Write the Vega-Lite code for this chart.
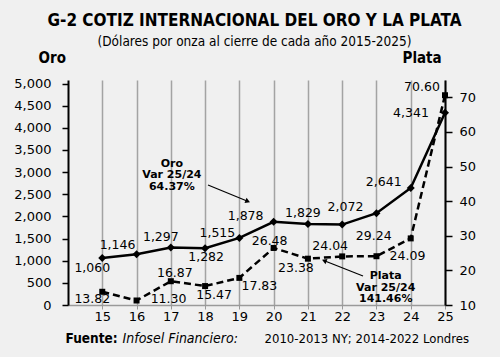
{
  "$schema": "https://vega.github.io/schema/vega-lite/v6.json",
  "width": 377,
  "height": 225,
  "autosize": {"type": "none"},
  "padding": {"left": 68, "top": 80, "right": 55, "bottom": 52},
  "background": "#f0f0f0",
  "title": {
    "text": "G-2 COTIZ INTERNACIONAL DEL ORO Y LA PLATA",
    "subtitle": "(Dólares por onza al cierre de cada año 2015-2025)",
    "anchor": "middle",
    "frame": "group",
    "font": "DejaVu Sans Condensed",
    "fontSize": 17,
    "fontWeight": "bold",
    "color": "black",
    "subtitleFont": "DejaVu Sans Condensed",
    "subtitleFontSize": 13.5,
    "subtitleColor": "black",
    "subtitlePadding": 5,
    "offset": 1,
    "dx": -2
  },
  "config": {
    "view": {"stroke": null},
    "axis": {"labelFont": "DejaVu Sans", "labelFontSize": 13, "labelColor": "black", "titleColor": "black"},
    "text": {"font": "DejaVu Sans", "fontSize": 12.5, "color": "black"}
  },
  "datasets": {
    "precios": [
      {"anio": 15, "oro": 1060, "plata": 13.82},
      {"anio": 16, "oro": 1146, "plata": 11.30},
      {"anio": 17, "oro": 1297, "plata": 16.87},
      {"anio": 18, "oro": 1282, "plata": 15.47},
      {"anio": 19, "oro": 1515, "plata": 17.83},
      {"anio": 20, "oro": 1878, "plata": 26.48},
      {"anio": 21, "oro": 1829, "plata": 23.38},
      {"anio": 22, "oro": 1815, "plata": 24.04},
      {"anio": 23, "oro": 2072, "plata": 24.09},
      {"anio": 24, "oro": 2641, "plata": 29.24},
      {"anio": 25, "oro": 4341, "plata": 70.60}
    ],
    "notas": [
      {"tipo": "texto", "anio": 17.03, "oro": 3185, "texto": "Oro\nVar 25/24\n64.37%"},
      {"tipo": "flecha", "anio": 18.085, "oro": 2709, "anio2": 19.223, "oro2": 2348},
      {"tipo": "punta", "anio": 19.223, "oro": 2348},
      {"tipo": "texto", "anio": 23.27, "plata": 18.3, "texto": "Plata\nVar 25/24\n141.46%"},
      {"tipo": "flecha", "anio": 22.608, "plata": 18.38, "anio2": 21.499, "plata2": 22.71},
      {"tipo": "punta", "anio": 21.499, "plata": 22.71}
    ]
  },
  "layer": [
    {
      "data": {"name": "precios"},
      "encoding": {
        "x": {
          "field": "anio", "type": "quantitative",
          "scale": {"domain": [14, 25], "nice": false, "zero": false},
          "axis": {
            "orient": "bottom", "values": [15, 16, 17, 18, 19, 20, 21, 22, 23, 24, 25], "format": "d",
            "grid": true, "gridColor": "#a3a3a3", "gridWidth": 1.5,
            "domainColor": "#9a9a9a", "domainWidth": 1.5, "tickColor": "#9a9a9a", "tickSize": 4,
            "labelPadding": 1, "labelFlush": false, "labelOverlap": false,
            "title": "Fuente:", "titleX": -3, "titleY": 37, "titleAlign": "left", "titleBaseline": "alphabetic",
            "titleFont": "DejaVu Sans Condensed", "titleFontSize": 13.5, "titleFontWeight": "bold"
          }
        },
        "y": {
          "field": "oro", "type": "quantitative",
          "scale": {"domain": [0, 5080], "nice": false},
          "axis": {
            "orient": "left", "values": [0, 500, 1000, 1500, 2000, 2500, 3000, 3500, 4000, 4500, 5000], "format": ",.0f",
            "grid": false, "domainColor": "black", "domainWidth": 2, "tickColor": "black", "tickSize": 6, "tickWidth": 1.5,
            "labelPadding": 11,
            "title": "Oro", "titleAngle": 0, "titleX": -30, "titleY": -18, "titleAlign": "left", "titleBaseline": "alphabetic",
            "titleFont": "DejaVu Sans Condensed", "titleFontSize": 15, "titleFontWeight": "bold"
          }
        }
      },
      "layer": [
        {"mark": {"type": "line", "color": "black", "strokeWidth": 2.5}},
        {"mark": {"type": "point", "shape": "diamond", "filled": true, "color": "black", "opacity": 1, "size": 64}},
        {
          "encoding": {"text": {"field": "oro", "type": "quantitative", "format": ",.0f"}},
          "layer": [
            {"transform": [{"filter": "datum.anio == 15"}], "mark": {"type": "text", "dx": -10, "dy": 10}},
            {"transform": [{"filter": "datum.anio == 16"}], "mark": {"type": "text", "dx": -19, "dy": -9}},
            {"transform": [{"filter": "datum.anio == 17"}], "mark": {"type": "text", "dx": -10, "dy": -11}},
            {"transform": [{"filter": "datum.anio == 18"}], "mark": {"type": "text", "dx": 1, "dy": 9}},
            {"transform": [{"filter": "datum.anio == 19"}], "mark": {"type": "text", "dx": -22, "dy": -5}},
            {"transform": [{"filter": "datum.anio == 20"}], "mark": {"type": "text", "dx": -28, "dy": -6}},
            {"transform": [{"filter": "datum.anio == 21"}], "mark": {"type": "text", "dx": -5, "dy": -11}},
            {"transform": [{"filter": "datum.anio == 23"}], "mark": {"type": "text", "dx": -31, "dy": -6}},
            {"transform": [{"filter": "datum.anio == 24"}], "mark": {"type": "text", "dx": -27, "dy": -6}},
            {"transform": [{"filter": "datum.anio == 25"}], "mark": {"type": "text", "dx": -34, "dy": 0}}
          ]
        }
      ]
    },
    {
      "data": {"name": "precios"},
      "encoding": {
        "x": {
          "field": "anio", "type": "quantitative",
          "scale": {"domain": [14, 25], "nice": false, "zero": false},
          "axis": {
            "orient": "bottom", "labels": false, "ticks": false, "domain": false, "grid": false,
            "title": "Infosel Financiero:", "titleX": 54, "titleY": 37, "titleAlign": "left", "titleBaseline": "alphabetic",
            "titleFont": "DejaVu Sans Condensed", "titleFontSize": 14, "titleFontWeight": "normal", "titleFontStyle": "italic"
          }
        },
        "y": {
          "field": "plata", "type": "quantitative",
          "scale": {"domain": [10, 75], "nice": false, "zero": false},
          "axis": {
            "orient": "right", "values": [10, 20, 30, 40, 50, 60, 70],
            "grid": false, "domainColor": "black", "domainWidth": 2, "tickColor": "black", "tickSize": 7, "tickWidth": 1.5,
            "labelPadding": 7,
            "title": "Plata", "titleAngle": 0, "titleX": -43, "titleY": -18, "titleAlign": "left", "titleBaseline": "alphabetic",
            "titleFont": "DejaVu Sans Condensed", "titleFontSize": 15, "titleFontWeight": "bold"
          }
        }
      },
      "layer": [
        {"mark": {"type": "line", "color": "black", "strokeWidth": 2.5, "strokeDash": [7, 4]}},
        {"mark": {"type": "point", "shape": "square", "filled": true, "color": "black", "opacity": 1, "size": 36}},
        {
          "encoding": {"text": {"field": "plata", "type": "quantitative", "format": ".2f"}},
          "layer": [
            {"transform": [{"filter": "datum.anio == 15"}], "mark": {"type": "text", "dx": -10, "dy": 7}},
            {"transform": [{"filter": "datum.anio == 16"}], "mark": {"type": "text", "dx": 32, "dy": -2}},
            {"transform": [{"filter": "datum.anio == 17"}], "mark": {"type": "text", "dx": 4, "dy": -8}},
            {"transform": [{"filter": "datum.anio == 18"}], "mark": {"type": "text", "dx": 9, "dy": 9}},
            {"transform": [{"filter": "datum.anio == 19"}], "mark": {"type": "text", "dx": 20, "dy": 8}},
            {"transform": [{"filter": "datum.anio == 20"}], "mark": {"type": "text", "dx": -4, "dy": -7}},
            {"transform": [{"filter": "datum.anio == 21"}], "mark": {"type": "text", "dx": -12, "dy": 9}},
            {"transform": [{"filter": "datum.anio == 22"}], "mark": {"type": "text", "dx": -12, "dy": -10}},
            {"transform": [{"filter": "datum.anio == 23"}], "mark": {"type": "text", "dx": 31, "dy": 0}},
            {"transform": [{"filter": "datum.anio == 24"}], "mark": {"type": "text", "dx": -37, "dy": -2}},
            {"transform": [{"filter": "datum.anio == 25"}], "mark": {"type": "text", "dx": -23, "dy": -8}}
          ]
        },
        {
          "data": {"name": "notas"},
          "transform": [{"filter": "isValid(datum.plata)"}],
          "layer": [
            {"transform": [{"filter": "datum.tipo == 'texto'"}], "mark": {"type": "text", "fontWeight": "bold", "fontSize": 11, "lineBreak": "\n", "lineHeight": 11.5}, "encoding": {"text": {"field": "texto"}}},
            {"transform": [{"filter": "datum.tipo == 'flecha'"}], "mark": {"type": "rule", "color": "black", "strokeWidth": 1.2}, "encoding": {"x2": {"field": "anio2"}, "y2": {"field": "plata2"}}},
            {"transform": [{"filter": "datum.tipo == 'punta'"}], "mark": {"type": "point", "shape": "triangle", "angle": 291, "filled": true, "color": "black", "opacity": 1, "size": 30}}
          ]
        }
      ]
    },
    {
      "data": {"name": "notas"},
      "transform": [{"filter": "isValid(datum.oro)"}],
      "encoding": {
        "x": {
          "field": "anio", "type": "quantitative",
          "scale": {"domain": [14, 25], "nice": false, "zero": false},
          "axis": {
            "orient": "bottom", "labels": false, "ticks": false, "domain": false, "grid": false,
            "title": "2010-2013 NY; 2014-2022 Londres", "titleX": 196, "titleY": 37, "titleAlign": "left", "titleBaseline": "alphabetic",
            "titleFont": "DejaVu Sans Condensed", "titleFontSize": 13, "titleFontWeight": "normal"
          }
        },
        "y": {"field": "oro", "type": "quantitative", "scale": {"domain": [0, 5080], "nice": false}, "axis": null}
      },
      "layer": [
        {"transform": [{"filter": "datum.tipo == 'texto'"}], "mark": {"type": "text", "fontWeight": "bold", "fontSize": 11, "lineBreak": "\n", "lineHeight": 11.5}, "encoding": {"text": {"field": "texto"}}},
        {"transform": [{"filter": "datum.tipo == 'flecha'"}], "mark": {"type": "rule", "color": "black", "strokeWidth": 1.2}, "encoding": {"x2": {"field": "anio2"}, "y2": {"field": "oro2"}}},
        {"transform": [{"filter": "datum.tipo == 'punta'"}], "mark": {"type": "point", "shape": "triangle", "angle": 112, "filled": true, "color": "black", "opacity": 1, "size": 30}}
      ]
    }
  ],
  "resolve": {"scale": {"x": "independent", "y": "independent"}}
}
